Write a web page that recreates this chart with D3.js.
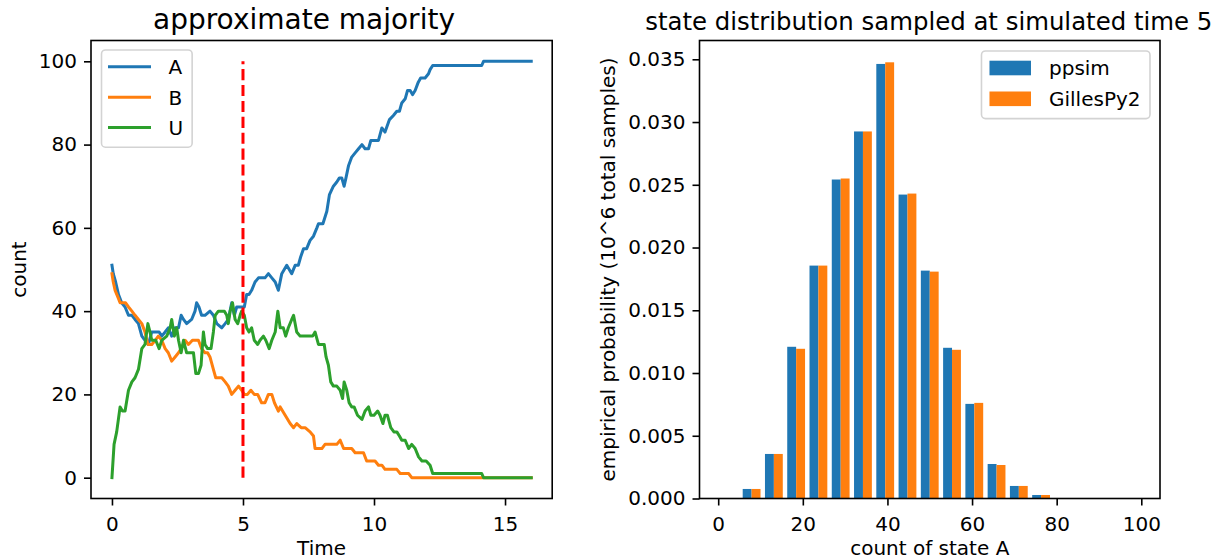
<!DOCTYPE html>
<html>
<head>
<meta charset="utf-8">
<script src="https://cdn.jsdelivr.net/npm/d3@7"></script>
<style>
  html, body { margin: 0; padding: 0; background: #fff; }
  svg { display: block; font-family: "DejaVu Sans", sans-serif; }
</style>
</head>
<body>
<svg id="fig" width="1218" height="560"></svg>
<script>
// ---- simulation trace: counts of A, B, U over time, as [time, count] ----
const seriesA = [[0,51],[0.05,49],[0.14,47],[0.25,44],[0.37,42],[0.5,41],[0.63,39],[0.76,39],[0.88,38],[1.01,37],[1.14,34],[1.26,33],[1.39,32],[1.52,35],[1.65,35],[1.8,35],[1.9,34],[2.03,35],[2.15,36],[2.28,34],[2.41,36],[2.54,36],[2.64,39],[2.73,38],[2.85,37],[3.04,38],[3.17,40],[3.23,42],[3.32,41],[3.42,39],[3.55,39],[3.74,40],[3.87,39],[4.0,37],[4.19,36],[4.32,37],[4.44,38],[4.57,42],[4.67,39],[4.76,41],[4.95,41],[5.05,41],[5.14,44],[5.23,44],[5.33,45],[5.46,47],[5.59,48],[5.71,48],[5.84,48],[5.97,49],[6.1,48],[6.23,47],[6.35,45],[6.48,49],[6.67,51],[6.86,49],[6.99,51],[7.11,51],[7.2,53],[7.31,55],[7.43,55],[7.56,57],[7.69,58],[7.82,60],[7.88,61],[8.05,61],[8.2,64],[8.3,68],[8.45,70],[8.58,71],[8.68,72],[8.77,72],[8.86,70],[8.93,72],[9.03,75],[9.15,77],[9.28,78],[9.41,79],[9.54,80],[9.66,79],[9.79,79],[9.88,81],[10.0,81],[10.17,81],[10.3,84],[10.42,83],[10.59,86],[10.74,87],[10.87,88],[10.97,88],[11.06,90],[11.19,91],[11.28,93],[11.38,93],[11.47,92],[11.57,93],[11.69,95],[11.78,96],[11.95,96],[12.08,97],[12.14,98],[12.24,99],[14.11,99],[14.18,100],[16,100]];

const seriesB = [[0,49],[0.05,47],[0.12,45],[0.25,43],[0.31,42],[0.4,42],[0.52,42],[0.63,41],[0.76,40],[0.88,39],[1.01,38],[1.14,37],[1.26,35],[1.37,32],[1.52,32],[1.65,33],[1.77,34],[1.9,33],[2.03,31],[2.15,30],[2.28,28],[2.41,29],[2.54,30],[2.64,31],[2.79,33],[2.92,32],[3.07,33],[3.17,33],[3.3,33],[3.42,31],[3.55,30],[3.65,30],[3.74,29],[3.87,26],[3.96,24],[4.06,24],[4.19,24],[4.32,23],[4.44,22],[4.57,20],[4.7,21],[4.83,22],[4.95,21],[5.05,20],[5.17,20],[5.3,21],[5.43,20],[5.56,20],[5.71,18],[5.84,18],[5.97,20],[6.1,20],[6.2,18],[6.35,16],[6.42,17],[6.61,15],[6.8,13],[6.93,12],[7.05,13],[7.22,12],[7.37,12],[7.56,11],[7.69,10],[7.75,7],[8.01,7],[8.13,8],[8.58,8],[8.71,9],[8.84,7],[9.15,7],[9.28,6],[9.6,6],[9.72,4],[10.04,4],[10.17,3],[10.3,3],[10.42,2],[10.87,2],[11.0,1],[11.32,1],[11.44,0],[16,0]];

const seriesU = [[0,0],[0.08,8],[0.18,11],[0.31,17],[0.4,16],[0.5,16],[0.63,21],[0.76,23],[0.88,24],[1.01,26],[1.14,31],[1.26,32],[1.37,37],[1.45,35],[1.52,33],[1.67,33],[1.8,31],[1.9,33],[2.09,34],[2.22,36],[2.28,38],[2.38,34],[2.47,36],[2.54,33],[2.64,30],[2.73,33],[2.85,30],[2.98,30],[3.11,30],[3.2,25],[3.3,25],[3.4,27],[3.49,35],[3.55,32],[3.65,31],[3.78,31],[3.87,35],[3.94,39],[4.06,40],[4.19,40],[4.29,40],[4.38,39],[4.44,37],[4.51,40],[4.6,42],[4.7,38],[4.8,37],[4.89,39],[4.95,40],[5.05,39],[5.14,36],[5.23,35],[5.33,36],[5.43,33],[5.56,32],[5.65,33],[5.78,34],[5.87,33],[6.0,31],[6.1,33],[6.23,35],[6.33,40],[6.42,36],[6.54,36],[6.63,34],[6.73,36],[6.86,38],[6.93,39],[7.05,35],[7.18,34],[7.31,34],[7.43,34],[7.66,34],[7.75,35],[7.88,32],[8.01,32],[8.1,32],[8.17,29],[8.26,27],[8.35,23],[8.45,22],[8.58,22],[8.71,21],[8.8,19],[8.86,23],[8.96,21],[9.05,18],[9.15,17],[9.24,17],[9.37,15],[9.54,14],[9.66,16],[9.79,17],[9.88,15],[10.0,15],[10.14,16],[10.23,15],[10.34,13],[10.42,15],[10.51,15],[10.64,12],[10.76,11],[10.87,11],[10.97,10],[11.06,9],[11.19,9],[11.32,7],[11.44,8],[11.57,7],[11.7,5],[11.83,4],[11.99,4],[12.14,3],[12.24,1],[14.11,1],[14.18,0],[16,0]];

const sampleTime = 5;            // time at which the distribution is sampled
const stateNames = ["A", "B", "U"];
const timeTicks = [0, 5, 10, 15];
const countTicks = [0, 20, 40, 60, 80, 100];

// ---- histogram of count(A) at the sample time ----
const binEdges = [0, 5.263, 10.526, 15.789, 21.053, 26.316, 31.579, 36.842, 42.105, 47.368, 52.632, 57.895, 63.158, 68.421, 73.684, 78.947, 84.211, 89.474, 94.737, 100];
const probPpsim     = [0.00001, 0.00076, 0.00355, 0.01209, 0.01856, 0.02542, 0.02925, 0.03463, 0.02422, 0.01816, 0.01201, 0.00754, 0.00275, 0.00100, 0.00028, 0.00004, 0, 0, 0];
const probGillespy2 = [0.00001, 0.00076, 0.00355, 0.01193, 0.01856, 0.02550, 0.02925, 0.03476, 0.02430, 0.01808, 0.01185, 0.00762, 0.00267, 0.00100, 0.00028, 0.00004, 0, 0, 0];
const simNames = ["ppsim", "GillesPy2"];
const stateTicksX = [0, 20, 40, 60, 80, 100];
const probTicks = [0, 0.005, 0.010, 0.015, 0.020, 0.025, 0.030, 0.035];

// ---- styling ----
const C = { blue: "#1f77b4", orange: "#ff7f0e", green: "#2ca02c", red: "#ff0000" };
const FONT = "DejaVu Sans, sans-serif";
const FS = 20, LW = 3, SPINE = 1.6;

const svg = d3.select("#fig");
const plotTop = 40.5, plotBottom = 498.5;
const panelL = { x0: 91.0, x1: 552.2, y0: plotTop, y1: plotBottom };
const panelR = { x0: 699.5, x1: 1160.0, y0: plotTop, y1: plotBottom };

function padded(lo, hi) { const m = 0.05 * (hi - lo); return [lo - m, hi + m]; }

function axes(g, box, x, y, xt, yt, xfmt, yfmt) {
  const gx = g.append("g").attr("transform", `translate(0,${box.y1})`)
    .call(d3.axisBottom(x).tickValues(xt).tickSize(7).tickPadding(11).tickFormat(xfmt));
  const gy = g.append("g").attr("transform", `translate(${box.x0},0)`)
    .call(d3.axisLeft(y).tickValues(yt).tickSize(7).tickPadding(7).tickFormat(yfmt));
  [gx, gy].forEach(a => {
    a.select(".domain").remove();
    a.selectAll("line").attr("stroke", "#000").attr("stroke-width", SPINE);
    a.selectAll("text").attr("font-size", FS).attr("font-family", FONT).attr("fill", "#000");
  });
}

function frame(g, box) {
  g.append("rect").attr("x", box.x0).attr("y", box.y0)
    .attr("width", box.x1 - box.x0).attr("height", box.y1 - box.y0)
    .attr("fill", "none").attr("stroke", "#000").attr("stroke-width", SPINE);
}

function label(text, x, y, size, rotate) {
  const t = svg.append("text").attr("font-family", FONT).attr("font-size", size)
    .attr("text-anchor", "middle").attr("fill", "#000").text(text);
  if (rotate) t.attr("transform", `translate(${x},${y}) rotate(-90)`);
  else t.attr("x", x).attr("y", y);
  return t;
}

function textWidth(str) {
  const t = svg.append("text").attr("font-family", FONT).attr("font-size", FS).text(str);
  const w = t.node().getComputedTextLength(); t.remove(); return w;
}

// ================= left panel: time series =================
{
  const all = seriesA.concat(seriesB, seriesU);
  const xL = d3.scaleLinear().domain(padded(0, d3.max(all, d => d[0]))).range([panelL.x0, panelL.x1]);
  const yL = d3.scaleLinear().domain(padded(0, d3.max(all, d => d[1]))).range([panelL.y1, panelL.y0]);
  const g = svg.append("g");
  const line = d3.line().x(d => xL(d[0])).y(d => yL(d[1]));
  const colors = [C.blue, C.orange, C.green];
  [seriesA, seriesB, seriesU].forEach((s, i) => {
    g.append("path").datum(s).attr("d", line).attr("fill", "none")
      .attr("stroke", colors[i]).attr("stroke-width", LW)
      .attr("stroke-linejoin", "round").attr("stroke-linecap", "square");
  });
  // sampling time marker
  g.append("line").attr("x1", xL(sampleTime)).attr("x2", xL(sampleTime))
    .attr("y1", yL(0)).attr("y2", yL(100))
    .attr("stroke", C.red).attr("stroke-width", LW).attr("stroke-dasharray", "11.1,4.8");
  axes(g, panelL, xL, yL, timeTicks, countTicks, d3.format("d"), d3.format("d"));
  frame(g, panelL);

  // legend
  const lw = 67 + d3.max(stateNames, textWidth) + 9;
  const lx = panelL.x0 + 10.5, ly = panelL.y0 + 9.5, rowH = 30.4;
  const leg = g.append("g");
  leg.append("rect").attr("x", lx).attr("y", ly).attr("width", lw).attr("height", stateNames.length * rowH + 6)
    .attr("rx", 4).attr("fill", "#fff").attr("fill-opacity", 0.8)
    .attr("stroke", "#d3d3d3").attr("stroke-width", SPINE);
  stateNames.forEach((n, i) => {
    const cy = ly + 16.8 + i * rowH;
    leg.append("line").attr("x1", lx + 8).attr("x2", lx + 48).attr("y1", cy).attr("y2", cy)
      .attr("stroke", colors[i]).attr("stroke-width", LW).attr("stroke-linecap", "square");
    leg.append("text").attr("x", lx + 67).attr("y", cy + 7.3).attr("font-family", FONT)
      .attr("font-size", FS).attr("fill", "#000").text(n);
  });

  label("approximate majority", 304, 29, 28, false);
  label("Time", (panelL.x0 + panelL.x1) / 2, 555, FS, false);
  label("count", 25.5, (panelL.y0 + panelL.y1) / 2, FS, true);
}

// ================= right panel: histogram =================
{
  const nb = probPpsim.length;
  const binW = i => binEdges[i + 1] - binEdges[i];
  const lo = binEdges[0] + 0.1 * binW(0), hi = binEdges[nb] - 0.1 * binW(nb - 1);
  const xR = d3.scaleLinear().domain(padded(lo, hi)).range([panelR.x0, panelR.x1]);
  const ymax = d3.max(probPpsim.concat(probGillespy2)) * 1.05;
  const yR = d3.scaleLinear().domain([0, ymax]).range([panelR.y1, panelR.y0]);
  const g = svg.append("g");
  const bars = [];
  for (let i = 0; i < nb; i++) {
    const w = binW(i), start = binEdges[i] + 0.1 * w, bw = 0.4 * w;
    bars.push({ x: start, w: bw, v: probPpsim[i], c: C.blue });
    bars.push({ x: start + bw, w: bw, v: probGillespy2[i], c: C.orange });
  }
  g.selectAll("rect.bar").data(bars).join("rect").attr("class", "bar")
    .attr("x", d => xR(d.x)).attr("width", d => xR(d.x + d.w) - xR(d.x))
    .attr("y", d => yR(d.v)).attr("height", d => yR(0) - yR(d.v))
    .attr("fill", d => d.c);
  axes(g, panelR, xR, yR, stateTicksX, probTicks, d3.format("d"), d3.format(".3f"));
  frame(g, panelR);

  // legend
  const lw = 67 + d3.max(simNames, textWidth) + 10;
  const lx = panelR.x1 - 10 - lw, ly = panelR.y0 + 10.5, rowH = 30.8;
  const leg = g.append("g");
  leg.append("rect").attr("x", lx).attr("y", ly).attr("width", lw).attr("height", simNames.length * rowH + 6)
    .attr("rx", 4).attr("fill", "#fff").attr("fill-opacity", 0.8)
    .attr("stroke", "#d3d3d3").attr("stroke-width", SPINE);
  [C.blue, C.orange].forEach((c, i) => {
    const cy = ly + 17 + i * rowH;
    leg.append("rect").attr("x", lx + 8).attr("y", cy - 7.3).attr("width", 41.5).attr("height", 14.6).attr("fill", c);
    leg.append("text").attr("x", lx + 67.5).attr("y", cy + 7.3).attr("font-family", FONT)
      .attr("font-size", FS).attr("fill", "#000").text(simNames[i]);
  });

  label("state distribution sampled at simulated time " + sampleTime, (panelR.x0 + panelR.x1) / 2 - 1, 29.5, 24.4, false);
  label("count of state A", (panelR.x0 + panelR.x1) / 2, 555, FS, false);
  label("empirical probability (10^6 total samples)", 615, (panelR.y0 + panelR.y1) / 2, FS, true);
}
</script>
</body>
</html>
